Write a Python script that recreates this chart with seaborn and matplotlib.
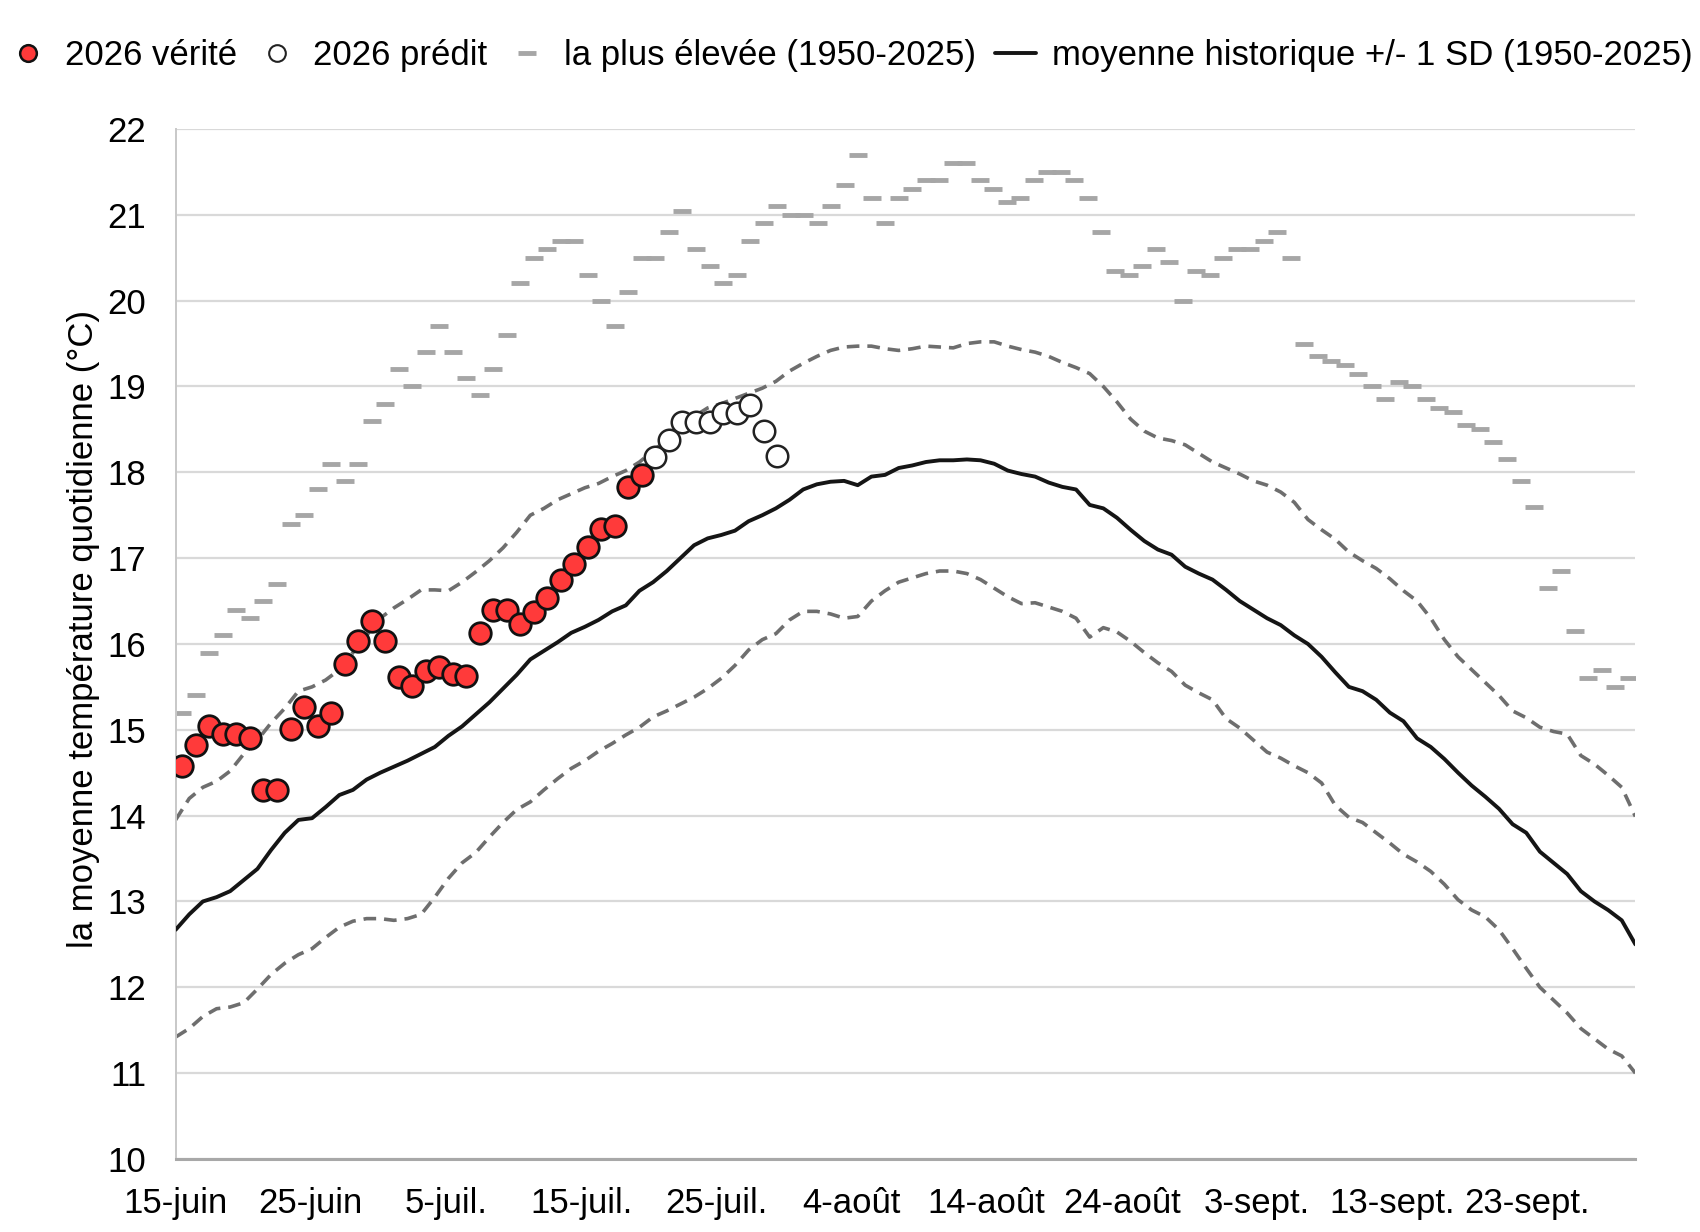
import numpy as np
import pandas as pd
import seaborn as sns
import matplotlib.pyplot as plt
from matplotlib.lines import Line2D

# daily categories 15-juin .. 30-sept.
n_days = 108
tick_labels = ["15-juin", "25-juin", "5-juil.", "15-juil.", "25-juil.", "4-août",
               "14-août", "24-août", "3-sept.", "13-sept.", "23-sept."]

# 2026 observed (days 0-34) and predicted (days 35-44)
obs_2026 = [14.58, 14.82, 15.05, 14.95, 14.95, 14.9, 14.3, 14.3, 15.01, 15.27,
            15.04, 15.2, 15.77, 16.03, 16.27, 16.04, 15.61, 15.51, 15.68, 15.73,
            15.65, 15.63, 16.13, 16.4, 16.4, 16.23, 16.37, 16.53, 16.74, 16.93,
            17.13, 17.34, 17.37, 17.83, 17.97]
pred_2026 = [18.18, 18.38, 18.59, 18.59, 18.59, 18.69, 18.69, 18.78, 18.48, 18.19]

# highest 1950-2025
highest = [15.2, 15.4, 15.9, 16.1, 16.4, 16.3, 16.5, 16.7, 17.4, 17.5,
           17.8, 18.1, 17.9, 18.1, 18.6, 18.8, 19.2, 19.0, 19.4, 19.7,
           19.4, 19.1, 18.9, 19.2, 19.6, 20.2, 20.5, 20.6, 20.7, 20.7,
           20.3, 20.0, 19.7, 20.1, 20.5, 20.5, 20.8, 21.05, 20.6, 20.4,
           20.2, 20.3, 20.7, 20.9, 21.1, 21.0, 21.0, 20.9, 21.1, 21.35,
           21.7, 21.2, 20.9, 21.2, 21.3, 21.4, 21.4, 21.6, 21.6, 21.4,
           21.3, 21.15, 21.2, 21.4, 21.5, 21.5, 21.4, 21.2, 20.8, 20.35,
           20.3, 20.4, 20.6, 20.45, 20.0, 20.35, 20.3, 20.5, 20.6, 20.6,
           20.7, 20.8, 20.5, 19.5, 19.35, 19.3, 19.25, 19.15, 19.0, 18.85,
           19.05, 19.0, 18.85, 18.75, 18.7, 18.55, 18.5, 18.35, 18.15, 17.9,
           17.6, 16.65, 16.85, 16.15, 15.6, 15.7, 15.5, 15.6]

# historical mean and +/- 1 SD
mean_hist = [12.67, 12.85, 13.0, 13.05, 13.12, 13.25, 13.38, 13.6, 13.8, 13.95,
             13.97, 14.1, 14.24, 14.3, 14.42, 14.5, 14.57, 14.64, 14.72, 14.8,
             14.93, 15.04, 15.18, 15.32, 15.48, 15.64, 15.82, 15.92, 16.02, 16.13,
             16.2, 16.28, 16.38, 16.45, 16.62, 16.72, 16.85, 17.0, 17.15, 17.23,
             17.27, 17.32, 17.43, 17.5, 17.58, 17.68, 17.8, 17.86, 17.89, 17.9,
             17.85, 17.95, 17.97, 18.05, 18.08, 18.12, 18.14, 18.14, 18.15, 18.14,
             18.1, 18.02, 17.98, 17.95, 17.88, 17.83, 17.8, 17.62, 17.58, 17.47,
             17.33, 17.2, 17.1, 17.04, 16.9, 16.82, 16.75, 16.63, 16.5, 16.4,
             16.3, 16.22, 16.1, 16.0, 15.85, 15.67, 15.5, 15.45, 15.35, 15.2,
             15.1, 14.9, 14.8, 14.66, 14.5, 14.35, 14.22, 14.08, 13.9, 13.8,
             13.58, 13.45, 13.32, 13.12, 13.0, 12.9, 12.78, 12.5]
upper_sd = [13.95, 14.2, 14.33, 14.4, 14.52, 14.72, 14.88, 15.08, 15.25, 15.45,
            15.5, 15.58, 15.7, 15.9, 16.1, 16.3, 16.42, 16.52, 16.63, 16.63,
            16.62, 16.72, 16.84, 16.97, 17.12, 17.3, 17.5, 17.58, 17.68, 17.75,
            17.82, 17.87, 17.95, 18.02, 18.12, 18.25, 18.38, 18.5, 18.65, 18.75,
            18.8, 18.86, 18.92, 18.98, 19.06, 19.18, 19.27, 19.35, 19.42, 19.46,
            19.47, 19.47, 19.44, 19.42, 19.44, 19.47, 19.46, 19.45, 19.5, 19.52,
            19.52, 19.47, 19.43, 19.4, 19.35, 19.28, 19.22, 19.15, 19.0, 18.82,
            18.62, 18.48, 18.4, 18.37, 18.32, 18.22, 18.12, 18.05, 17.98, 17.9,
            17.85, 17.77, 17.65, 17.45, 17.33, 17.22, 17.07, 16.97, 16.88, 16.76,
            16.62, 16.5, 16.3, 16.05, 15.85, 15.7, 15.55, 15.4, 15.22, 15.14,
            15.03, 14.98, 14.95, 14.7, 14.6, 14.47, 14.33, 13.99]
lower_sd = [11.42, 11.52, 11.66, 11.75, 11.77, 11.82, 11.98, 12.15, 12.28, 12.38,
            12.45, 12.58, 12.7, 12.77, 12.8, 12.8, 12.78, 12.8, 12.85, 13.05,
            13.27, 13.45, 13.57, 13.75, 13.92, 14.07, 14.16, 14.3, 14.43, 14.55,
            14.64, 14.75, 14.84, 14.94, 15.03, 15.15, 15.22, 15.3, 15.38, 15.48,
            15.6, 15.75, 15.93, 16.05, 16.12, 16.28, 16.38, 16.38, 16.35, 16.3,
            16.32, 16.5, 16.62, 16.72, 16.77, 16.82, 16.85, 16.85, 16.82, 16.75,
            16.65, 16.55, 16.47, 16.48, 16.43, 16.38, 16.3, 16.08, 16.19, 16.14,
            16.03, 15.9, 15.78, 15.68, 15.52, 15.43, 15.35, 15.13, 15.02, 14.88,
            14.74, 14.67, 14.58, 14.5, 14.38, 14.12, 13.98, 13.92, 13.8, 13.68,
            13.55, 13.46, 13.35, 13.2, 13.02, 12.9, 12.82, 12.67, 12.45, 12.22,
            12.0, 11.85, 11.7, 11.52, 11.4, 11.28, 11.2, 11.0]

sns.set_style("white")
plt.rcParams['font.family'] = ['Liberation Sans', 'DejaVu Sans']
for key in ["text.color", "axes.labelcolor", "xtick.color", "ytick.color"]:
    plt.rcParams[key] = "black"
FS = 25

# markers sit in the middle of each day, lines run edge to edge (like the Excel original)
day_mid = np.arange(n_days) + 0.5
line_x = np.linspace(0, n_days, n_days)

df_lines = pd.DataFrame({"x": line_x, "mean": mean_hist, "up": upper_sd, "low": lower_sd})
df_hi = pd.DataFrame({"x": day_mid, "val": highest})
df_obs = pd.DataFrame({"x": day_mid[:len(obs_2026)], "val": obs_2026})
df_pred = pd.DataFrame({"x": day_mid[len(obs_2026):len(obs_2026) + len(pred_2026)], "val": pred_2026})

fig = plt.figure(figsize=(17, 12.32), dpi=100)
ax = fig.add_axes([0.1033, 0.0593, 0.8587, 0.8360])

sd_color = "#6e6e6e"
hi_color = "#a6a6a6"
sns.lineplot(data=df_lines, x="x", y="up", ax=ax, color=sd_color, lw=2.6,
             dashes=False, linestyle=(0, (3.5, 2.2)), zorder=2)
sns.lineplot(data=df_lines, x="x", y="low", ax=ax, color=sd_color, lw=2.6,
             dashes=False, linestyle=(0, (3.5, 2.2)), zorder=2)
sns.lineplot(data=df_lines, x="x", y="mean", ax=ax, color="#151515", lw=2.8, zorder=3)

sns.lineplot(data=df_hi, x="x", y="val", ax=ax, linestyle="none", marker="_",
             markersize=12.5, mew=3.5, color=hi_color, mec=hi_color, zorder=2)

sns.scatterplot(data=df_pred, x="x", y="val", ax=ax, s=240, color="white",
                edgecolor="#222222", linewidth=1.8, zorder=4)
sns.scatterplot(data=df_obs, x="x", y="val", ax=ax, s=240, color="#ff3a3a",
                edgecolor="#111111", linewidth=2.0, zorder=5)

ax.set_xlim(0, n_days)
ax.set_ylim(10, 22)
ax.set_xticks(np.arange(0, 101, 10))
ax.set_xticklabels(tick_labels, fontsize=FS)
ax.set_yticks(np.arange(10, 23, 1))
ax.tick_params(axis="y", length=0, pad=21, labelsize=FS)
ax.tick_params(axis="x", length=10, width=1.2, color="#a0a0a0", labelcolor="black",
               pad=10, direction="out")
ax.yaxis.grid(True, color="#d9d9d9", lw=1.6)
ax.set_axisbelow(True)
for side in ["top", "right"]:
    ax.spines[side].set_visible(False)
ax.spines["left"].set_color("#c8c8c8")
ax.spines["left"].set_linewidth(1.4)
ax.spines["bottom"].set_color("#a8a8a8")
ax.spines["bottom"].set_linewidth(2.2)
ax.set_xlabel("")
ax.set_ylabel("la moyenne température quotidienne (°C)", fontsize=FS)
ax.yaxis.set_label_coords(-0.052, 0.515)

handles = [
    Line2D([], [], linestyle="none", marker="o", markersize=12, markerfacecolor="#ff3a3a",
           markeredgecolor="#111111", markeredgewidth=1.8),
    Line2D([], [], linestyle="none", marker="o", markersize=12, markerfacecolor="white",
           markeredgecolor="#222222", markeredgewidth=1.5),
    Line2D([], [], linestyle="none", marker="_", markersize=13, mew=3.5, color=hi_color),
    Line2D([], [], color="#151515", lw=2.8),
]
labels = ["2026 vérité", "2026 prédit", "la plus élevée (1950-2025)",
          "moyenne historique +/- 1 SD (1950-2025)"]
fig.legend(handles, labels, loc="center", bbox_to_anchor=(0.5, 0.955), ncol=4,
           frameon=False, fontsize=FS, handlelength=1.2, handletextpad=0.45,
           columnspacing=0.55, borderaxespad=0)

fig.savefig("out.png", dpi=100)
